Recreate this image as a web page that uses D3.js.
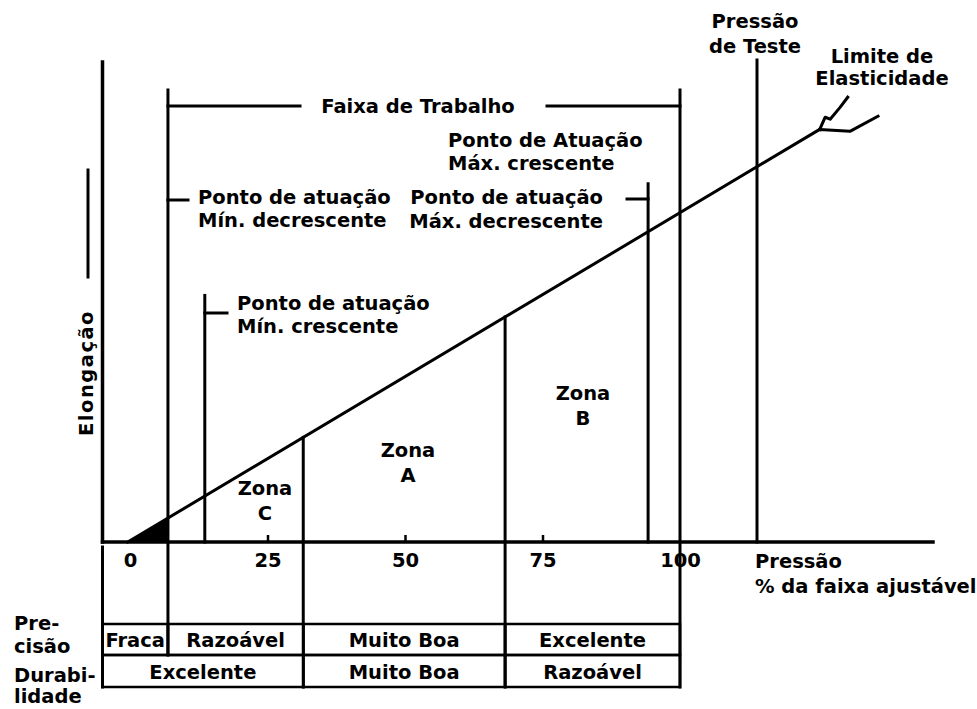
<!DOCTYPE html>
<html>
<head>
<meta charset="utf-8">
<script src="https://cdn.jsdelivr.net/npm/d3@7"></script>
<style>
  body { margin: 0; background: #fff; }
  svg text { font-family: "DejaVu Sans", sans-serif; font-weight: bold; font-size: 19.5px; fill: #000; }
</style>
</head>
<body>
<svg id="chart" width="977" height="709"></svg>
<script>
// pressure (% of adjustable range) vs elongation
var tickValues = [0, 25, 50, 75, 100];
var elongationLine = [[-0.4, 0], [125.4, 125.5], [130.9, 124.9], [136, 129.5]];
var yieldKink = [[125.4, 125.5], [126.4, 129.2], [127.3, 128.6], [129.1, 132.2], [130.5, 135.3]];
var workRange = [6.9, 100];
var zoneBounds = [31.5, 68.2];
var minRising = 13.6, minRisingTop = 75;
var maxFalling = 94.2, maxFallingTop = 109;
var testPressure = 114, testPressureTop = 146.6;
var precisionCells = [[-5, 6.9, "Fraca"], [6.9, 31.5, "Razoável"], [31.5, 68.2, "Muito Boa"], [68.2, 100, "Excelente"]];
var durabilityCells = [[-5, 31.5, "Excelente"], [31.5, 68.2, "Muito Boa"], [68.2, 100, "Razoável"]];
var zoneNames = ["C", "A", "B"];

var svg = d3.select("#chart");
var x = d3.scaleLinear().domain([0, 100]).range([130, 680]);
var y = d3.scaleLinear().domain([0, 146]).range([542, 62]);

var lineAt = function(p){
    var a = elongationLine[0], b = elongationLine[1];
    return a[1] + (p - a[0]) * (b[1] - a[1]) / (b[0] - a[0]);
};

var g = svg.append("g").attr("stroke", "#000").attr("fill", "none").attr("stroke-linecap", "square");

// axes
g.append("line").attr("x1", x(-5)).attr("x2", x(146)).attr("y1", y(0)).attr("y2", y(0)).attr("stroke-width", 3.5);
g.append("line").attr("x1", x(-5)).attr("x2", x(-5)).attr("y1", y(0)).attr("y2", y(146)).attr("stroke-width", 3.5);

var axis = d3.axisBottom(x).tickValues(tickValues).tickSizeInner(-7).tickSizeOuter(0).tickPadding(11);
var ax = svg.append("g").attr("transform", "translate(0," + y(0) + ")").call(axis);
ax.select(".domain").remove();
ax.selectAll(".tick line").attr("stroke-width", 2.5).filter(function(d){ return d === 0 || d === 100; }).remove();
ax.selectAll(".tick text").attr("font-size", null).attr("font-family", null);

// black wedge under the line before the work range
var wedge = [[elongationLine[0][0], 0], [workRange[0], lineAt(workRange[0])], [workRange[0], 0]];
svg.append("path")
    .attr("d", d3.line().x(function(d){ return x(d[0]); }).y(function(d){ return y(d[1]); })(wedge) + "Z")
    .attr("fill", "#000");

// elongation line and yield kink
var lineGen = d3.line().x(function(d){ return x(d[0]); }).y(function(d){ return y(d[1]); });
g.append("path").attr("d", lineGen(elongationLine)).attr("stroke-width", 3).attr("stroke-linejoin", "round");
g.append("path").attr("d", lineGen(yieldKink)).attr("stroke-width", 3).attr("stroke-linejoin", "round");

// vertical markers
var rowTop = 624, rowMid = 655, rowBottom = 687;
var vline = function(p, y1, y2){
    g.append("line").attr("x1", x(p)).attr("x2", x(p)).attr("y1", y1).attr("y2", y2).attr("stroke-width", 3);
};
vline(workRange[0], 90, rowMid);
vline(workRange[1], 90, rowBottom);
vline(minRising, y(minRisingTop), y(0));
vline(maxFalling, y(maxFallingTop), y(0));
vline(testPressure, y(testPressureTop), y(0));
zoneBounds.forEach(function(p){ vline(p, y(lineAt(p)), rowBottom); });
vline(-5, 547, rowBottom);

// brackets and label ticks
var hline = function(x1, x2, yy){
    g.append("line").attr("x1", x1).attr("x2", x2).attr("y1", yy).attr("y2", yy).attr("stroke-width", 3);
};
hline(x(workRange[0]), 300, 106);
hline(547, x(workRange[1]), 106);
hline(x(workRange[0]), 188, 200);
hline(x(minRising), 227, 313);
hline(627, x(maxFalling), 199);
g.append("line").attr("x1", 88).attr("x2", 88).attr("y1", 170).attr("y2", 277).attr("stroke-width", 3);

// table
var drawRow = function(cells, top, bottom){
    cells.forEach(function(c){
        g.append("rect").attr("x", x(c[0])).attr("y", top)
            .attr("width", x(c[1]) - x(c[0])).attr("height", bottom - top).attr("stroke-width", 2.5);
        svg.append("text").attr("x", (x(c[0]) + x(c[1])) / 2).attr("y", bottom - 8)
            .attr("text-anchor", "middle").text(c[2]);
    });
};
drawRow(precisionCells, rowTop, rowMid);
drawRow(durabilityCells, rowMid, rowBottom);

// text labels
var label = function(lines, tx, ty, anchor, step){
    var t = svg.append("text").attr("x", tx).attr("y", ty).attr("text-anchor", anchor || "start");
    lines.forEach(function(s, i){
        t.append("tspan").attr("x", tx).attr("y", ty + i * (step || 23)).text(s);
    });
};
label(["Faixa de Trabalho"], 418, 113, "middle");
label(["Ponto de atuação", "Mín. decrescente"], 198, 204);
label(["Ponto de atuação", "Mín. crescente"], 237, 310);
label(["Ponto de Atuação", "Máx. crescente"], 448, 147);
label(["Ponto de atuação", "Máx. decrescente"], 603, 204, "end", 24);
label(["Pressão", "de Teste"], 755, 28, "middle", 25);
label(["Limite de", "Elasticidade"], 882, 63, "middle", 22);
label(["Pressão", "% da faixa ajustável"], 755, 568, "start", 25);
label(["Pre-", "cisão"], 14, 630);
label(["Durabi-", "lidade"], 14, 682, "start", 21);

var zonePos = [[265, 495], [408, 457], [583, 400]];
zoneNames.forEach(function(n, i){
    label(["Zona", n], zonePos[i][0], zonePos[i][1], "middle", 25);
});

svg.append("text").attr("transform", "translate(93,373) rotate(-90)")
    .attr("text-anchor", "middle").attr("letter-spacing", 1.5).text("Elongação");
</script>
</body>
</html>
